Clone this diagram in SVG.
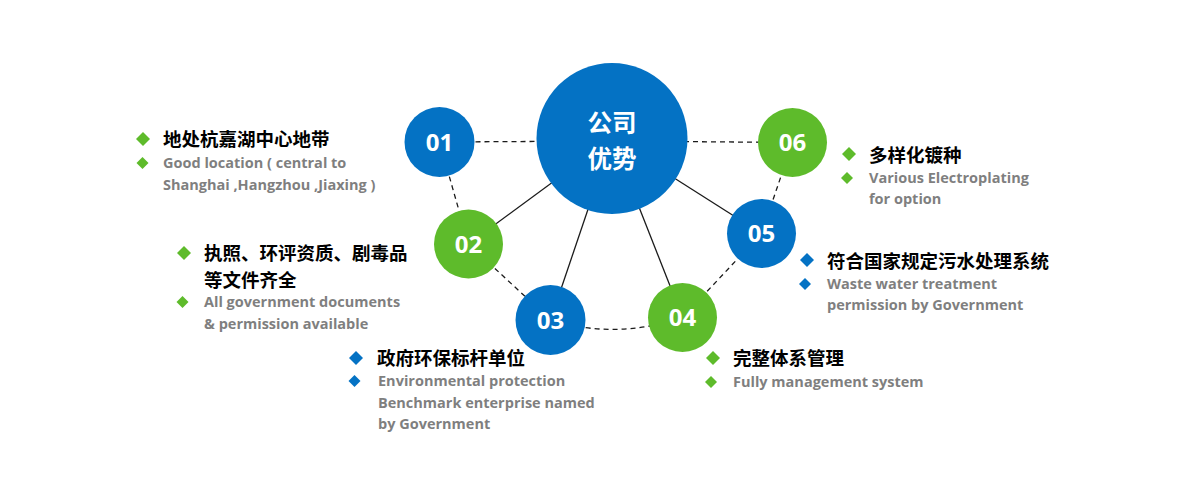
<svg xmlns="http://www.w3.org/2000/svg" width="1200" height="500" viewBox="0 0 1200 500">
<defs>
<style>
.bg{fill:#ffffff}
.blue{fill:#0472C4}
.green{fill:#5EBB2B}
.num{font-family:"Open Sans","Noto Sans",sans-serif;font-weight:700;font-size:24px;fill:#ffffff;text-anchor:middle;dominant-baseline:central}
.hub{font-family:"Noto Sans CJK SC",sans-serif;font-weight:700;font-size:24.5px;fill:#ffffff;text-anchor:middle;dominant-baseline:central}
.zh{font-family:"Noto Sans CJK SC",sans-serif;font-weight:700;font-size:18.5px;fill:#000000}
.en{font-family:"Open Sans","Noto Sans",sans-serif;font-weight:700;font-size:14.5px;fill:#7F7F7F}
.dash{fill:none;stroke:#1a1a1a;stroke-width:1.3;stroke-dasharray:5 4}
.solid{fill:none;stroke:#1a1a1a;stroke-width:1.3}
</style>
<polygon id="dBig" points="0,-7 7,0 0,7 -7,0"/>
<polygon id="dSmall" points="0,-6 6,0 0,6 -6,0"/>
</defs>
<rect class="bg" x="0" y="0" width="1200" height="500"/>
<g id="connectors">
<line class="dash" x1="439.5" y1="142" x2="612" y2="141"/>
<line class="dash" x1="612" y1="141" x2="792.5" y2="142.5"/>
<line class="dash" x1="439.5" y1="142" x2="468.5" y2="244"/>
<line class="dash" x1="468.5" y1="244" x2="550.5" y2="320"/>
<path class="dash" d="M550.5,320 Q616,340 682.5,317.5"/>
<line class="dash" x1="682.5" y1="317.5" x2="761.5" y2="233.5"/>
<line class="dash" x1="761.5" y1="233.5" x2="792.5" y2="142.5"/>
<line class="solid" x1="612" y1="138.5" x2="468.5" y2="244"/>
<line class="solid" x1="612" y1="138.5" x2="550.5" y2="320"/>
<line class="solid" x1="612" y1="138.5" x2="682.5" y2="317.5"/>
<line class="solid" x1="612" y1="138.5" x2="761.5" y2="233.5"/>
</g>
<g id="hub">
<circle class="blue" cx="612" cy="138.5" r="75.5"/>
<text class="hub" x="612" y="121">公司</text>
<text class="hub" x="612" y="157">优势</text>
</g>
<g id="node01">
<circle class="blue" cx="439.5" cy="142" r="35"/>
<text class="num" x="439.5" y="141">01</text>
</g>
<g id="node02">
<circle class="green" cx="468.5" cy="244" r="34.5"/>
<text class="num" x="468.5" y="243">02</text>
</g>
<g id="node03">
<circle class="blue" cx="550.5" cy="320" r="35"/>
<text class="num" x="550.5" y="319">03</text>
</g>
<g id="node04">
<circle class="green" cx="682.5" cy="317.5" r="34.5"/>
<text class="num" x="682.5" y="316.5">04</text>
</g>
<g id="node05">
<circle class="blue" cx="761.5" cy="233.5" r="34.5"/>
<text class="num" x="761.5" y="232.5">05</text>
</g>
<g id="node06">
<circle class="green" cx="792.5" cy="142.5" r="34.5"/>
<text class="num" x="792.5" y="141.5">06</text>
</g>
<g id="text01">
<use href="#dBig" class="green" x="143" y="139"/>
<use href="#dSmall" class="green" x="142.5" y="163"/>
<text class="zh" x="163" y="145.5">地处杭嘉湖中心地带</text>
<text class="en" x="163" y="168">Good location ( central to</text>
<text class="en" x="163" y="190">Shanghai ,Hangzhou ,Jiaxing )</text>
</g>
<g id="text02">
<use href="#dBig" class="green" x="184" y="253"/>
<use href="#dSmall" class="green" x="182.5" y="302"/>
<text class="zh" x="204" y="260">执照、环评资质、剧毒品</text>
<text class="zh" x="204" y="287">等文件齐全</text>
<text class="en" x="204" y="307">All government documents</text>
<text class="en" x="204" y="329">&amp; permission available</text>
</g>
<g id="text03">
<use href="#dBig" class="blue" x="356" y="358"/>
<use href="#dSmall" class="blue" x="354.5" y="381"/>
<text class="zh" x="377" y="365">政府环保标杆单位</text>
<text class="en" x="378" y="386">Environmental protection</text>
<text class="en" x="378" y="408">Benchmark enterprise named</text>
<text class="en" x="378" y="429">by Government</text>
</g>
<g id="text04">
<use href="#dBig" class="green" x="713" y="358"/>
<use href="#dSmall" class="green" x="711" y="382"/>
<text class="zh" x="733" y="365">完整体系管理</text>
<text class="en" x="733" y="387">Fully management system</text>
</g>
<g id="text05">
<use href="#dBig" class="blue" x="807" y="260"/>
<use href="#dSmall" class="blue" x="805" y="284"/>
<text class="zh" x="827" y="268">符合国家规定污水处理系统</text>
<text class="en" x="827" y="289">Waste water treatment</text>
<text class="en" x="827" y="310">permission by Government</text>
</g>
<g id="text06">
<use href="#dBig" class="green" x="849" y="154"/>
<use href="#dSmall" class="green" x="847" y="178"/>
<text class="zh" x="869" y="161.5">多样化镀种</text>
<text class="en" x="869" y="183">Various Electroplating</text>
<text class="en" x="869" y="204">for option</text>
</g>
</svg>
